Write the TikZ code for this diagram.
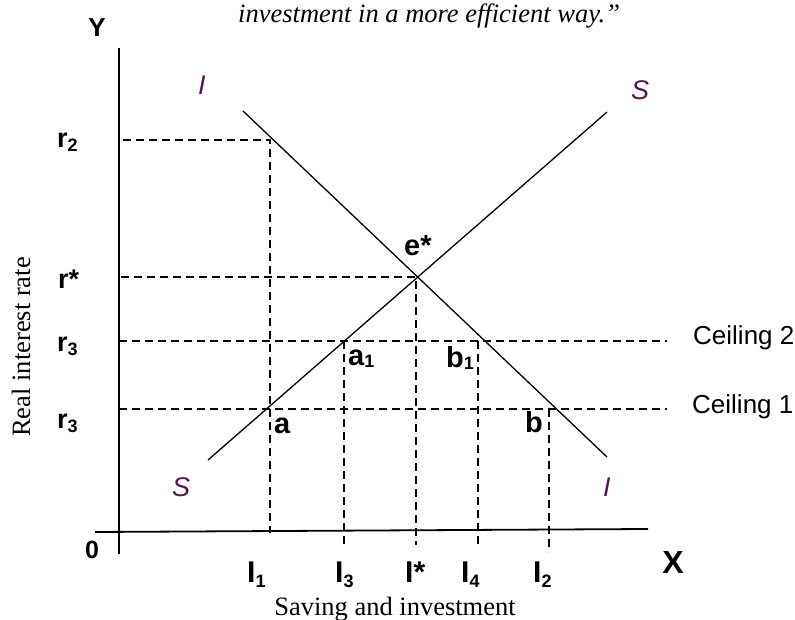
\documentclass[tikz,border=0pt]{standalone}
\usepackage{fontspec}
\setmainfont{Liberation Serif}
\newfontfamily\lab{Liberation Sans}
\definecolor{curvelabel}{RGB}{84,22,80}
\newcommand{\fs}[1]{\fontsize{#1}{#1}\selectfont}
\newcommand{\sbx}[2]{\raisebox{-#1pt}{\fs{18}#2}}
\tikzset{
  lbl/.style={anchor=base west, inner sep=0pt, font=\lab\bfseries\fs{29}},
  ilbl/.style={anchor=base west, inner sep=0pt, font=\lab\bfseries\fs{30}},
  rlbl/.style={anchor=base west, inner sep=0pt, font=\lab\bfseries\fs{27}},
  clbl/.style={anchor=base west, inner sep=0pt, font=\lab\itshape\fs{27}, text=curvelabel},
  ceil/.style={anchor=base west, inner sep=0pt, font=\lab\fs{26}},
  ser/.style={inner sep=0pt, font=\fs{26.5}},
  axis/.style={line width=1.8pt},
  curve/.style={line width=1.3pt},
  guide/.style={line width=1.9pt, dash pattern=on 8pt off 5pt},
}
\begin{document}
\begin{tikzpicture}[x=1pt,y=-1pt]
\useasboundingbox (0,0) rectangle (795,620);
% axes
\coordinate (ytop) at (119,48);
\coordinate (ybot) at (119,554);
\coordinate (xl) at (95,532);
\coordinate (xr) at (648,529);
\draw[axis] (ytop) -- (ybot);
\draw[axis] (xl) -- (xr);
% curves
\coordinate (Itop) at (243,111);
\coordinate (Ibot) at (607,457);
\coordinate (Sbot) at (208,460);
\coordinate (Stop) at (607,112);
\draw[curve] (Itop) -- (Ibot);
\draw[curve] (Sbot) -- (Stop);
% guide points
\coordinate (r2l) at (123,140);
\coordinate (r2p) at (270,140);
\coordinate (I1b) at (270,533);
\coordinate (rsl) at (121,277);
\coordinate (e) at (416,277);
\coordinate (Isb) at (416,545);
\coordinate (c2l) at (119,341);
\coordinate (c2r) at (667,341);
\coordinate (c1l) at (119,409);
\coordinate (c1r) at (667,409);
\coordinate (I3t) at (344,341);
\coordinate (I3b) at (344,547);
\coordinate (I4t) at (478,341);
\coordinate (I4b) at (478,545);
\coordinate (I2t) at (549,409);
\coordinate (I2b) at (549,552);
\draw[guide] (r2l) -- (r2p) -- (I1b);
\draw[guide] (rsl) -- (e) -- (Isb);
\draw[guide] (c2l) -- (c2r);
\draw[guide] (c1l) -- (c1r);
\draw[guide] (I3t) -- (I3b);
\draw[guide] (I4t) -- (I4b);
\draw[guide] (I2t) -- (I2b);
% axis letters
\node[inner sep=0pt, font=\lab\bfseries\fs{26}] (Y) at (97,28) {Y};
\node[inner sep=0pt, font=\lab\bfseries\fs{32}] (X) at (673,562) {X};
\node[inner sep=0pt, font=\lab\bfseries\fs{25}] (O) at (92,550) {0};
% rate labels
\node[rlbl] (r2) at (57,148) {r\sbx{4}{2}};
\node[rlbl] (rs) at (58,289) {r*};
\node[rlbl] (r3a) at (57,351) {r\sbx{4}{3}};
\node[rlbl] (r3b) at (57,428) {r\sbx{4}{3}};
% quantity labels
\node[ilbl] (I1) at (247,582) {I\sbx{5}{1}};
\node[ilbl] (I3) at (335,582) {I\sbx{5}{3}};
\node[ilbl] (Is) at (405,582) {I*};
\node[ilbl] (I4) at (461,582) {I\sbx{5}{4}};
\node[ilbl] (I2) at (533,582) {I\sbx{5}{2}};
% point labels
\node[lbl] (es) at (404,256) {e*};
\node[lbl] (a1) at (348,365) {a\sbx{2}{1}};
\node[lbl] (b1) at (446,367) {b\sbx{2}{1}};
\node[lbl] (a) at (274,433) {a};
\node[lbl] (b) at (525,432) {b};
% ceilings
\node[ceil] (c2) at (693,344) {Ceiling 2};
\node[ceil] (c1) at (692,413) {Ceiling 1};
% curve labels
\node[clbl] (Ilt) at (198,95) {I};
\node[clbl] (Srt) at (631,100) {S};
\node[clbl] (Slb) at (172,496) {S};
\node[clbl] (Irb) at (603,496) {I};
% texts
\node[ser, font=\itshape\fs{26.5}, anchor=base west] (top) at (238,23) {investment in a more efficient way.”};
\node[ser, anchor=base] (xt) at (395,615) {Saving and investment};
\node[ser, rotate=90] (yt) at (21,347) {Real interest rate};
\end{tikzpicture}
\end{document}
